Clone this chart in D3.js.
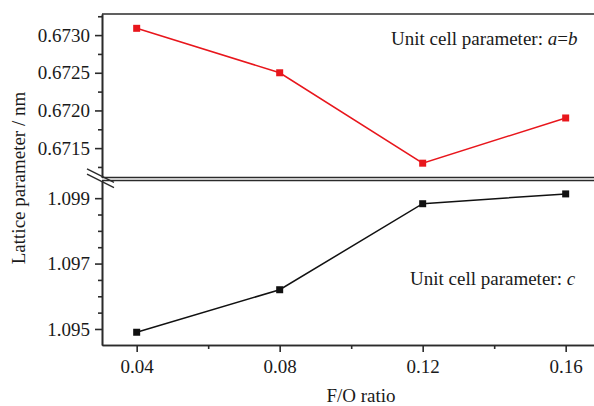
<!DOCTYPE html>
<html>
<head>
<meta charset="utf-8">
<script src="https://cdnjs.cloudflare.com/ajax/libs/d3/7.8.5/d3.min.js"></script>
<style>
  body { margin: 0; background: #fff; }
  svg { display: block; }
</style>
</head>
<body>
<script>
// values
const ratios = [0.04, 0.08, 0.12, 0.16];
const paramAB = [0.67309, 0.67250, 0.67130, 0.67190];
const paramC = [1.09490, 1.09620, 1.09883, 1.09913];
const xTicks = [0.04, 0.08, 0.12, 0.16];
const xMinorTicks = [0.06, 0.10, 0.14];
const topTicks = [0.6715, 0.6720, 0.6725, 0.6730];
const topMinorTicks = [0.67125, 0.67175, 0.67225, 0.67275, 0.67325];
const bottomTicks = [1.095, 1.097, 1.099];
const bottomMinorTicks = [1.0955, 1.096, 1.0965, 1.0975, 1.098, 1.0985];

const width = 594, height = 406;
const left = 102, right = 600;
const topPanel = { y0: 14, y1: 177.5 };
const botPanel = { y0: 180.5, y1: 345 };
const axisColor = '#2b2b2b';
const red = '#e8161c';
const serif = "'Liberation Serif', 'Times New Roman', Times, 'DejaVu Serif', serif";

const svg = d3.select('body').append('svg')
    .attr('width', width)
    .attr('height', height);

const x = d3.scaleLinear()
    .domain([0.0303, 0.1696])
    .range([left, right]);

const yTop = d3.scaleLinear()
    .domain([0.67111, 0.67328])
    .range([topPanel.y1, topPanel.y0]);

const yBot = d3.scaleLinear()
    .domain([1.09451, 1.09954])
    .range([botPanel.y1, botPanel.y0]);

// frame lines
const frame = svg.append('g')
    .attr('stroke', axisColor)
    .attr('stroke-width', 1.6);
[topPanel.y0, topPanel.y1, botPanel.y0].forEach(y => {
    frame.append('line')
        .attr('x1', left).attr('x2', right)
        .attr('y1', y).attr('y2', y);
});

// y axes (major + minor)
function yAxes(scale, major, minor, fmt) {
    const g = svg.append('g').attr('transform', `translate(${left},0)`);
    g.append('g')
        .call(d3.axisLeft(scale).tickValues(minor).tickSize(4).tickSizeOuter(0).tickFormat(''));
    g.append('g')
        .call(d3.axisLeft(scale).tickValues(major).tickSize(7).tickSizeOuter(0)
            .tickPadding(5).tickFormat(d3.format(fmt)));
    g.selectAll('path, line').attr('stroke', axisColor).attr('stroke-width', 1.6);
    g.selectAll('g').attr('font-family', null).attr('font-size', null);
    g.selectAll('text')
        .style('font-family', serif)
        .style('font-size', '19px')
        .attr('fill', '#1a1a1a');
}
yAxes(yTop, topTicks, topMinorTicks, '.4f');
yAxes(yBot, bottomTicks, bottomMinorTicks, '.3f');

// x axis
const xg = svg.append('g').attr('transform', `translate(0,${botPanel.y1})`);
xg.append('g')
    .call(d3.axisBottom(x).tickValues(xMinorTicks).tickSize(4).tickSizeOuter(0).tickFormat(''));
xg.append('g')
    .call(d3.axisBottom(x).tickValues(xTicks).tickSize(7).tickSizeOuter(0)
        .tickPadding(8).tickFormat(d3.format('.2f')));
xg.selectAll('path, line').attr('stroke', axisColor).attr('stroke-width', 1.6);
xg.selectAll('text')
    .style('font-family', serif)
    .style('font-size', '19px')
    .attr('fill', '#1a1a1a');

// axis break marks
const brk = svg.append('g').attr('stroke', axisColor).attr('stroke-width', 1.5);
[-2.6, 2.6].forEach(off => {
    brk.append('line')
        .attr('x1', left - 15).attr('y1', 179 + off - 7.5)
        .attr('x2', left + 12).attr('y2', 179 + off + 6);
});

// series
function series(values, scale, color) {
    const pts = ratios.map((r, i) => [x(r), scale(values[i])]);
    svg.append('path')
        .datum(pts)
        .attr('fill', 'none')
        .attr('stroke', color)
        .attr('stroke-width', 1.5)
        .attr('d', d3.line());
    svg.selectAll(null)
        .data(pts)
        .enter()
        .append('rect')
        .attr('x', d => d[0] - 3.5)
        .attr('y', d => d[1] - 3.5)
        .attr('width', 7)
        .attr('height', 7)
        .attr('fill', color);
}
series(paramAB, yTop, red);
series(paramC, yBot, '#111');

// annotations
function label(xp, yp) {
    return svg.append('text')
        .attr('x', xp).attr('y', yp)
        .style('font-family', serif)
        .style('font-size', '19px')
        .attr('fill', '#1a1a1a');
}
const t1 = label(391, 45);
t1.append('tspan').text('Unit cell parameter: ');
t1.append('tspan').style('font-style', 'italic').text('a');
t1.append('tspan').text('=');
t1.append('tspan').style('font-style', 'italic').text('b');

const t2 = label(410, 285);
t2.append('tspan').text('Unit cell parameter: ');
t2.append('tspan').style('font-style', 'italic').text('c');

// axis titles
label(0, 0)
    .attr('transform', 'translate(25,178) rotate(-90)')
    .attr('text-anchor', 'middle')
    .text('Lattice parameter / nm');

label(361, 402)
    .attr('text-anchor', 'middle')
    .text('F/O ratio');
</script>
</body>
</html>
